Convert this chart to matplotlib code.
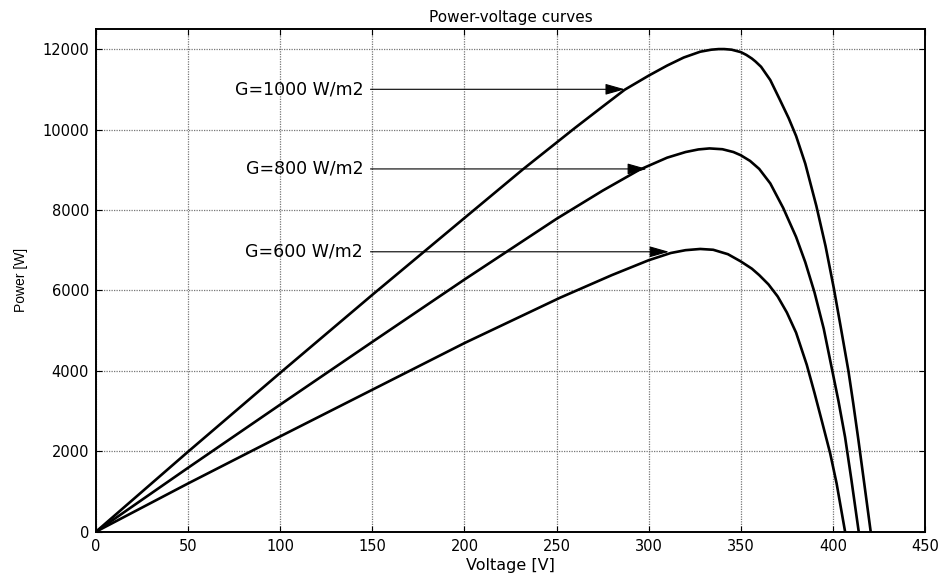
import matplotlib
matplotlib.use("Agg")
import matplotlib.pyplot as plt

plt.rcParams['font.family'] = ['DejaVu Sans']

# Data
V1000 = [0, 50, 100, 150, 200, 232, 260, 275, 287, 300, 310, 319, 328, 334, 338, 341, 345, 350, 353,
         356, 358, 361, 366, 371, 376, 380, 385, 391, 396, 400.5, 404, 408.4, 411, 413.8, 417, 420.5]
P1000 = [0, 1990, 3950, 5890, 7800, 9020, 10040, 10570, 10990, 11340, 11590, 11790, 11935, 11985, 12000,
         12000, 11985, 11925, 11855, 11765, 11690, 11560, 11230, 10760, 10280, 9840, 9150, 8100, 7100,
         6050, 5150, 4000, 3200, 2290, 1200, 0]

V800 = [0, 50, 100, 150, 200, 250, 275, 295, 310, 320, 327, 333, 340, 346, 350, 355, 360, 366, 373,
        380, 385, 390, 395, 399, 403, 406.6, 410, 414]
P800 = [0, 1590, 3160, 4720, 6270, 7780, 8480, 9000, 9300, 9440, 9505, 9530, 9510, 9440, 9360, 9220,
        9020, 8660, 8050, 7330, 6700, 5950, 5050, 4150, 3250, 2350, 1300, 0]

V600 = [0, 50, 100, 150, 200, 252, 280, 300, 312, 320, 328, 335, 343, 350, 356, 360, 365, 370, 375,
        380, 385.8, 390, 394, 398.5, 402, 406.6]
P600 = [0, 1200, 2370, 3530, 4690, 5820, 6380, 6750, 6930, 7000, 7030, 7010, 6900, 6720, 6540, 6380,
        6150, 5850, 5450, 4950, 4150, 3450, 2750, 1950, 1200, 0]

labels = ["G=1000 W/m2", "G=800 W/m2", "G=600 W/m2"]
label_y = [11000, 9020, 6960]
arrow_tip_x = [287, 299, 311]
arrow_start_x = 149
label_right_x = 145

xticks = [0, 50, 100, 150, 200, 250, 300, 350, 400, 450]
yticks = [0, 2000, 4000, 6000, 8000, 10000, 12000]

fig = plt.figure(figsize=(9.42, 5.76), dpi=100)
ax = fig.add_axes([0.1019, 0.0769, 0.8801, 0.8728])

for V, P in [(V1000, P1000), (V800, P800), (V600, P600)]:
    ax.plot(V, P, color='black', lw=1.9, solid_joinstyle='round', zorder=3)

for lab, y, tip in zip(labels, label_y, arrow_tip_x):
    ax.text(label_right_x, y, lab, ha='right', va='center', fontsize=12.5)
    ax.annotate('', xy=(tip, y), xytext=(arrow_start_x, y),
                arrowprops=dict(arrowstyle='-|>,head_length=0.6,head_width=0.17',
                                mutation_scale=20, lw=0.8, color='black',
                                shrinkA=0, shrinkB=0), zorder=4)

ax.set_xlim(0, 450)
ax.set_ylim(0, 12500)
ax.set_xticks(xticks)
ax.set_yticks(yticks)
ax.tick_params(direction='in', length=4, width=0.8, top=True, right=True,
               labelsize=10.5, pad=5)
ax.grid(True, color='#777777', linestyle=(0, (1, 1)), linewidth=0.9)
ax.set_axisbelow(True)
for s in ax.spines.values():
    s.set_linewidth(1.4)

ax.set_title('Power-voltage curves', fontsize=11, pad=5)
ax.set_xlabel('Voltage [V]', fontsize=11.5, labelpad=3)
ax.set_ylabel('Power [W]', fontsize=10, labelpad=10, family='Liberation Sans')

fig.savefig('out.png', dpi=100)
